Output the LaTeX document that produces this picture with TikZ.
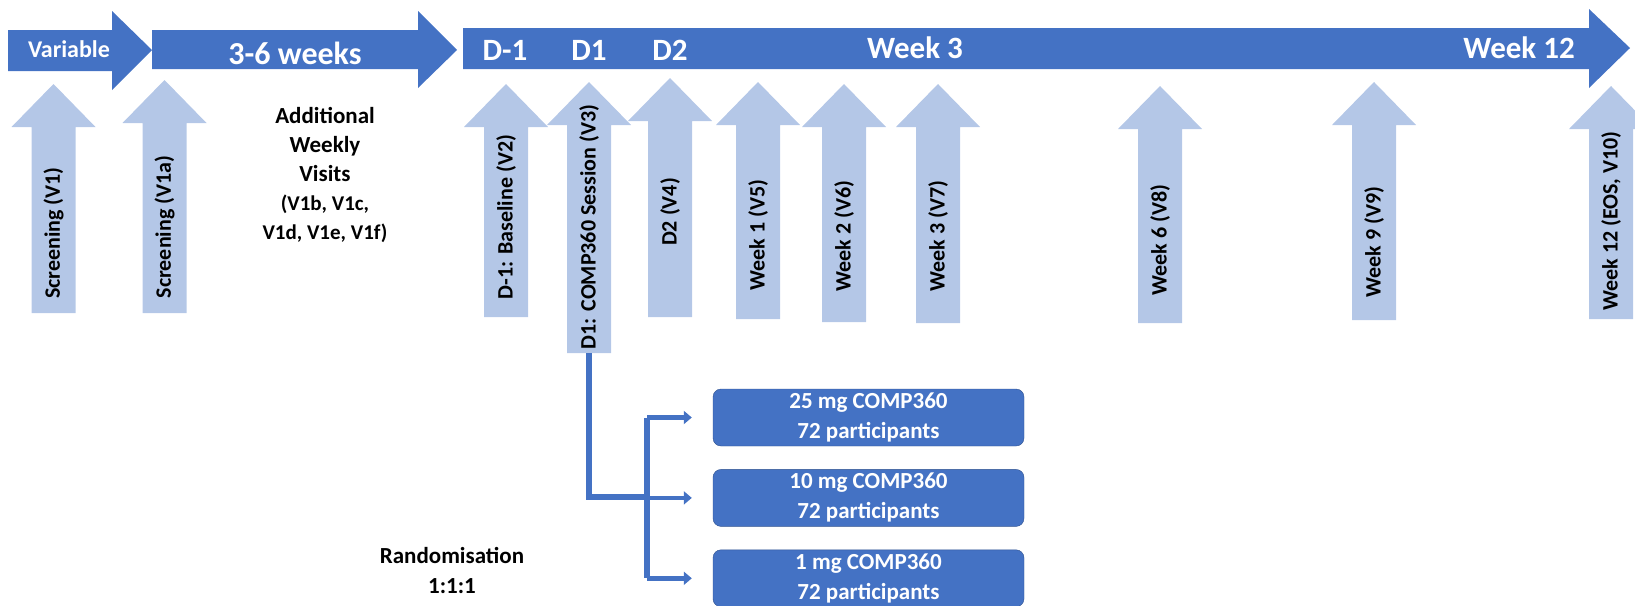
\documentclass[tikz,border=0pt]{standalone}
\usepackage{fontspec}
\setmainfont{Carlito}
\usetikzlibrary{arrows.meta}
\usetikzlibrary{positioning}

\definecolor{tlblue}{RGB}{68,114,196}
\definecolor{visitblue}{RGB}{180,199,231}
\definecolor{boxedge}{RGB}{47,82,143}

% visit arrow: name, centre x, tip y, foot y, label y, label
\newcommand{\visit}[6]{%
	\fill[visitblue] (#2,#3) -- (#2+42,#3+43) -- (#2+22,#3+43) -- (#2+22,#4) -- (#2-22,#4) -- (#2-22,#3+43) -- (#2-42,#3+43) -- cycle;
	\coordinate (#1foot) at (#2,#4);
	\node[visitlabel] (#1) at (#2,#5) {#6};
}

\begin{document}
\begin{tikzpicture}[x=1pt,y=-1pt,
		tllabel/.style={text=white,font=\fontsize{31}{31}\selectfont\bfseries},
		visitlabel/.style={rotate=90,font=\fontsize{22}{22}\selectfont\bfseries},
		dosebox/.style={draw=boxedge,fill=tlblue,rounded corners=8pt,minimum width=311pt,minimum height=57pt,align=center,text=white,font=\fontsize{23}{30}\selectfont\bfseries},
		link/.style={tlblue,line width=6pt},
		branch/.style={tlblue,line width=4.5pt,-{Triangle[width=13pt,length=8pt]},shorten >=21pt}]
	\useasboundingbox (0,0) rectangle (1635,605);
	% timeline
	\fill[tlblue] (8,30) -- (112,30) -- (112,11) -- (152,50) -- (112,90) -- (112,71) -- (8,71) -- cycle;
	\fill[tlblue] (152,30) -- (418,30) -- (418,11) -- (457,50) -- (418,88) -- (418,69) -- (152,69) -- cycle;
	\fill[tlblue] (463,28) -- (1589,28) -- (1589,9) -- (1630,48) -- (1589,88) -- (1589,69) -- (463,69) -- cycle;
	\node[tllabel,font=\fontsize{24}{24}\selectfont\bfseries] (var) at (69,49) {Variable};
	\node[tllabel,font=\fontsize{32}{32}\selectfont\bfseries] (weeks) at (295,53) {3-6 weeks};
	\node[tllabel] (dm1) at (505,50) {D-1};
	\node[tllabel] (d1) at (589,50) {D1};
	\node[tllabel] (d2) at (670,50) {D2};
	\node[tllabel] (wk3) at (915,48) {Week 3};
	\node[tllabel] (wk12) at (1519,48) {Week 12};
	% visits
	\visit{v1}{53.5}{84}{313}{233}{Screening (V1)}
	\visit{v1a}{164.5}{80}{313}{227}{Screening (V1a)}
	\visit{v2}{506}{84}{317}{217}{D-1: Baseline (V2)}
	\visit{v3}{589}{82}{353}{227}{D1: COMP360 Session (V3)}
	\visit{v4}{670}{78}{317}{212}{D2 (V4)}
	\visit{v5}{758}{82}{319}{235}{Week 1 (V5)}
	\visit{v6}{844}{84}{322}{236}{Week 2 (V6)}
	\visit{v7}{938}{84}{323}{236}{Week 3 (V7)}
	\visit{v8}{1160}{86}{323}{240}{Week 6 (V8)}
	\visit{v9}{1374}{82}{320}{242}{Week 9 (V9)}
	\visit{v10}{1611}{86}{319}{221}{Week 12 (EOS, V10)}
	\node[align=center,font=\fontsize{23}{29}\selectfont\bfseries] (extra) at (325,175) {Additional\\Weekly\\Visits\\{\fontsize{21}{29}\selectfont (V1b, V1c,}\\{\fontsize{21}{29}\selectfont V1d, V1e, V1f)}};
	% randomisation
	\node[dosebox] (dose25) at (868.5,417.5) {25 mg COMP360\\72 participants};
	\node[dosebox,below=23pt of dose25] (dose10) {10 mg COMP360\\72 participants};
	\node[dosebox,below=23pt of dose10] (dose1) {1 mg COMP360\\72 participants};
	\node[align=center,font=\fontsize{23}{30}\selectfont\bfseries] (rand) at (452,570) {Randomisation\\1:1:1};
	\coordinate (fork) at (647,497);
	\draw[link] (v3foot) |- (fork);
	\draw[link] (fork |- dose25.west) -- (fork |- dose1.west);
	\foreach \d in {dose25,dose10,dose1}
		\draw[branch] (fork |- \d.west) -- (\d.west);
\end{tikzpicture}
\end{document}
